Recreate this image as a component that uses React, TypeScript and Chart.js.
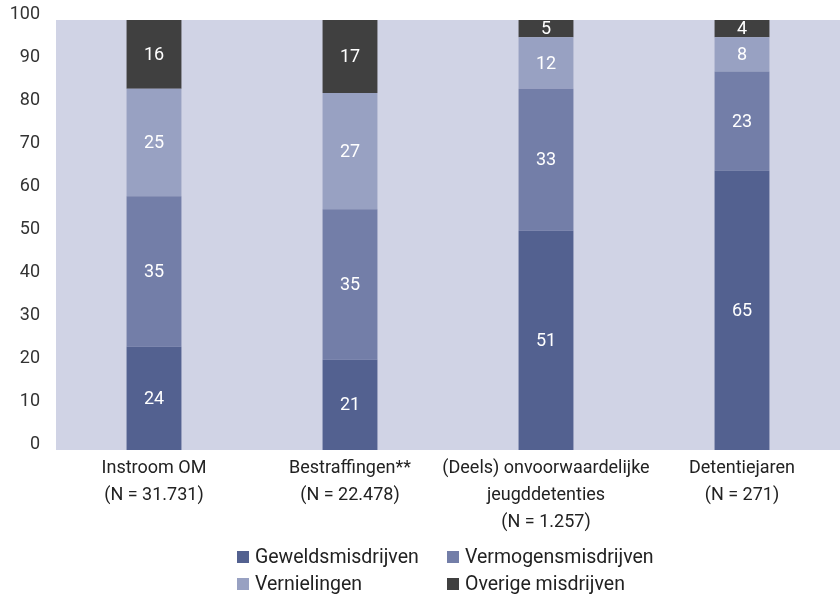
import React, { useEffect, useRef } from "react";
import { Chart, registerables } from "chart.js";

Chart.register(...registerables);

// ---- data ----
const categories: string[][] = [
  ["Instroom OM", "(N = 31.731)"],
  ["Bestraffingen**", "(N = 22.478)"],
  ["(Deels) onvoorwaardelijke", "jeugddetenties", "(N = 1.257)"],
  ["Detentiejaren", "(N = 271)"],
];
const seriesNames = [
  "Geweldsmisdrijven",
  "Vermogensmisdrijven",
  "Vernielingen",
  "Overige misdrijven",
];
const geweldsmisdrijven = [24, 21, 51, 65];
const vermogensmisdrijven = [35, 35, 33, 23];
const vernielingen = [25, 27, 12, 8];
const overigeMisdrijven = [16, 17, 5, 4];
const yMin = 0;
const yMax = 100;
const yStep = 10;

const seriesColors = ["#536190", "#737ea8", "#98a1c2", "#404040"];
const FONT = "Roboto";

const bgPlugin = {
  id: "plotBg",
  beforeDraw(chart: any) {
    const { ctx, chartArea } = chart;
    ctx.save();
    ctx.fillStyle = "#d0d3e5";
    ctx.fillRect(
      chartArea.left,
      chartArea.top,
      chartArea.right - chartArea.left,
      chartArea.bottom - chartArea.top
    );
    ctx.restore();
  },
};

const valueLabelPlugin = {
  id: "valueLabels",
  afterDatasetsDraw(chart: any) {
    const { ctx, chartArea } = chart;
    ctx.save();
    ctx.font = `18px ${FONT}`;
    ctx.fillStyle = "#ffffff";
    ctx.textAlign = "center";
    ctx.textBaseline = "middle";
    chart.data.datasets.forEach((ds: any, i: number) => {
      const meta = chart.getDatasetMeta(i);
      meta.data.forEach((bar: any, j: number) => {
        const p = bar.getProps(["x", "y", "base"], true);
        const top = Math.max(Math.min(p.y, p.base), chartArea.top);
        const bottom = Math.min(Math.max(p.y, p.base), chartArea.bottom);
        ctx.fillText(String(ds.data[j]), p.x, (top + bottom) / 2 + 1);
      });
    });
    ctx.restore();
  },
};

const gridLegendPlugin = {
  id: "gridLegend",
  afterDraw(chart: any) {
    const { ctx } = chart;
    const colX = [237, 447];
    const rowY = [557, 584];
    const box = 12;
    ctx.save();
    ctx.font = `19.5px ${FONT}`;
    ctx.textAlign = "left";
    ctx.textBaseline = "middle";
    chart.data.datasets.forEach((ds: any, i: number) => {
      const x = colX[i % 2];
      const y = rowY[Math.floor(i / 2)];
      ctx.fillStyle = ds.backgroundColor;
      ctx.fillRect(x, y - box / 2, box, box);
      ctx.fillStyle = "#222222";
      ctx.fillText(ds.label, x + box + 6, y + 1);
    });
    ctx.restore();
  },
};

export default function App() {
  const canvasRef = useRef<HTMLCanvasElement | null>(null);

  useEffect(() => {
    if (!canvasRef.current) return;
    const seriesValues = [
      geweldsmisdrijven,
      vermogensmisdrijven,
      vernielingen,
      overigeMisdrijven,
    ];
    const chart = new Chart(canvasRef.current, {
      type: "bar",
      data: {
        labels: categories,
        datasets: seriesValues.map((vals, i) => ({
          label: seriesNames[i],
          data: vals,
          backgroundColor: seriesColors[i],
          borderWidth: 0,
          categoryPercentage: 1,
          barPercentage: 0.28,
        })),
      },
      options: {
        animation: false,
        responsive: false,
        devicePixelRatio: 1,
        layout: { padding: { top: 20, left: 0, right: 0, bottom: 0 } },
        plugins: {
          legend: { display: false },
          tooltip: { enabled: false },
          title: { display: false },
        },
        scales: {
          x: {
            stacked: true,
            grid: { display: false, drawTicks: false },
            border: { display: false },
            ticks: {
              font: { family: FONT, size: 18, lineHeight: 27 / 18 },
              color: "#222222",
              padding: 5,
              maxRotation: 0,
              minRotation: 0,
              autoSkip: false,
            },
            afterFit(scale: any) {
              scale.height = 145;
              scale.paddingLeft = 0;
              scale.paddingRight = 0;
            },
          },
          y: {
            stacked: true,
            min: yMin,
            max: yMax,
            grid: { display: false, drawTicks: false },
            border: { display: false },
            ticks: {
              stepSize: yStep,
              font: { family: FONT, size: 18 },
              color: "#333333",
              padding: 16,
              labelOffset: -5.5,
            },
            afterFit(scale: any) {
              scale.width = 56;
              scale.paddingTop = 0;
              scale.paddingBottom = 0;
            },
          },
        },
      },
      plugins: [bgPlugin, valueLabelPlugin, gridLegendPlugin],
    } as any);
    return () => chart.destroy();
  }, []);

  return (
    <div style={{ position: "absolute", left: 0, top: 0, width: 840, height: 595, background: "#ffffff" }}>
      <canvas ref={canvasRef} width={840} height={595} style={{ display: "block" }} />
    </div>
  );
}
